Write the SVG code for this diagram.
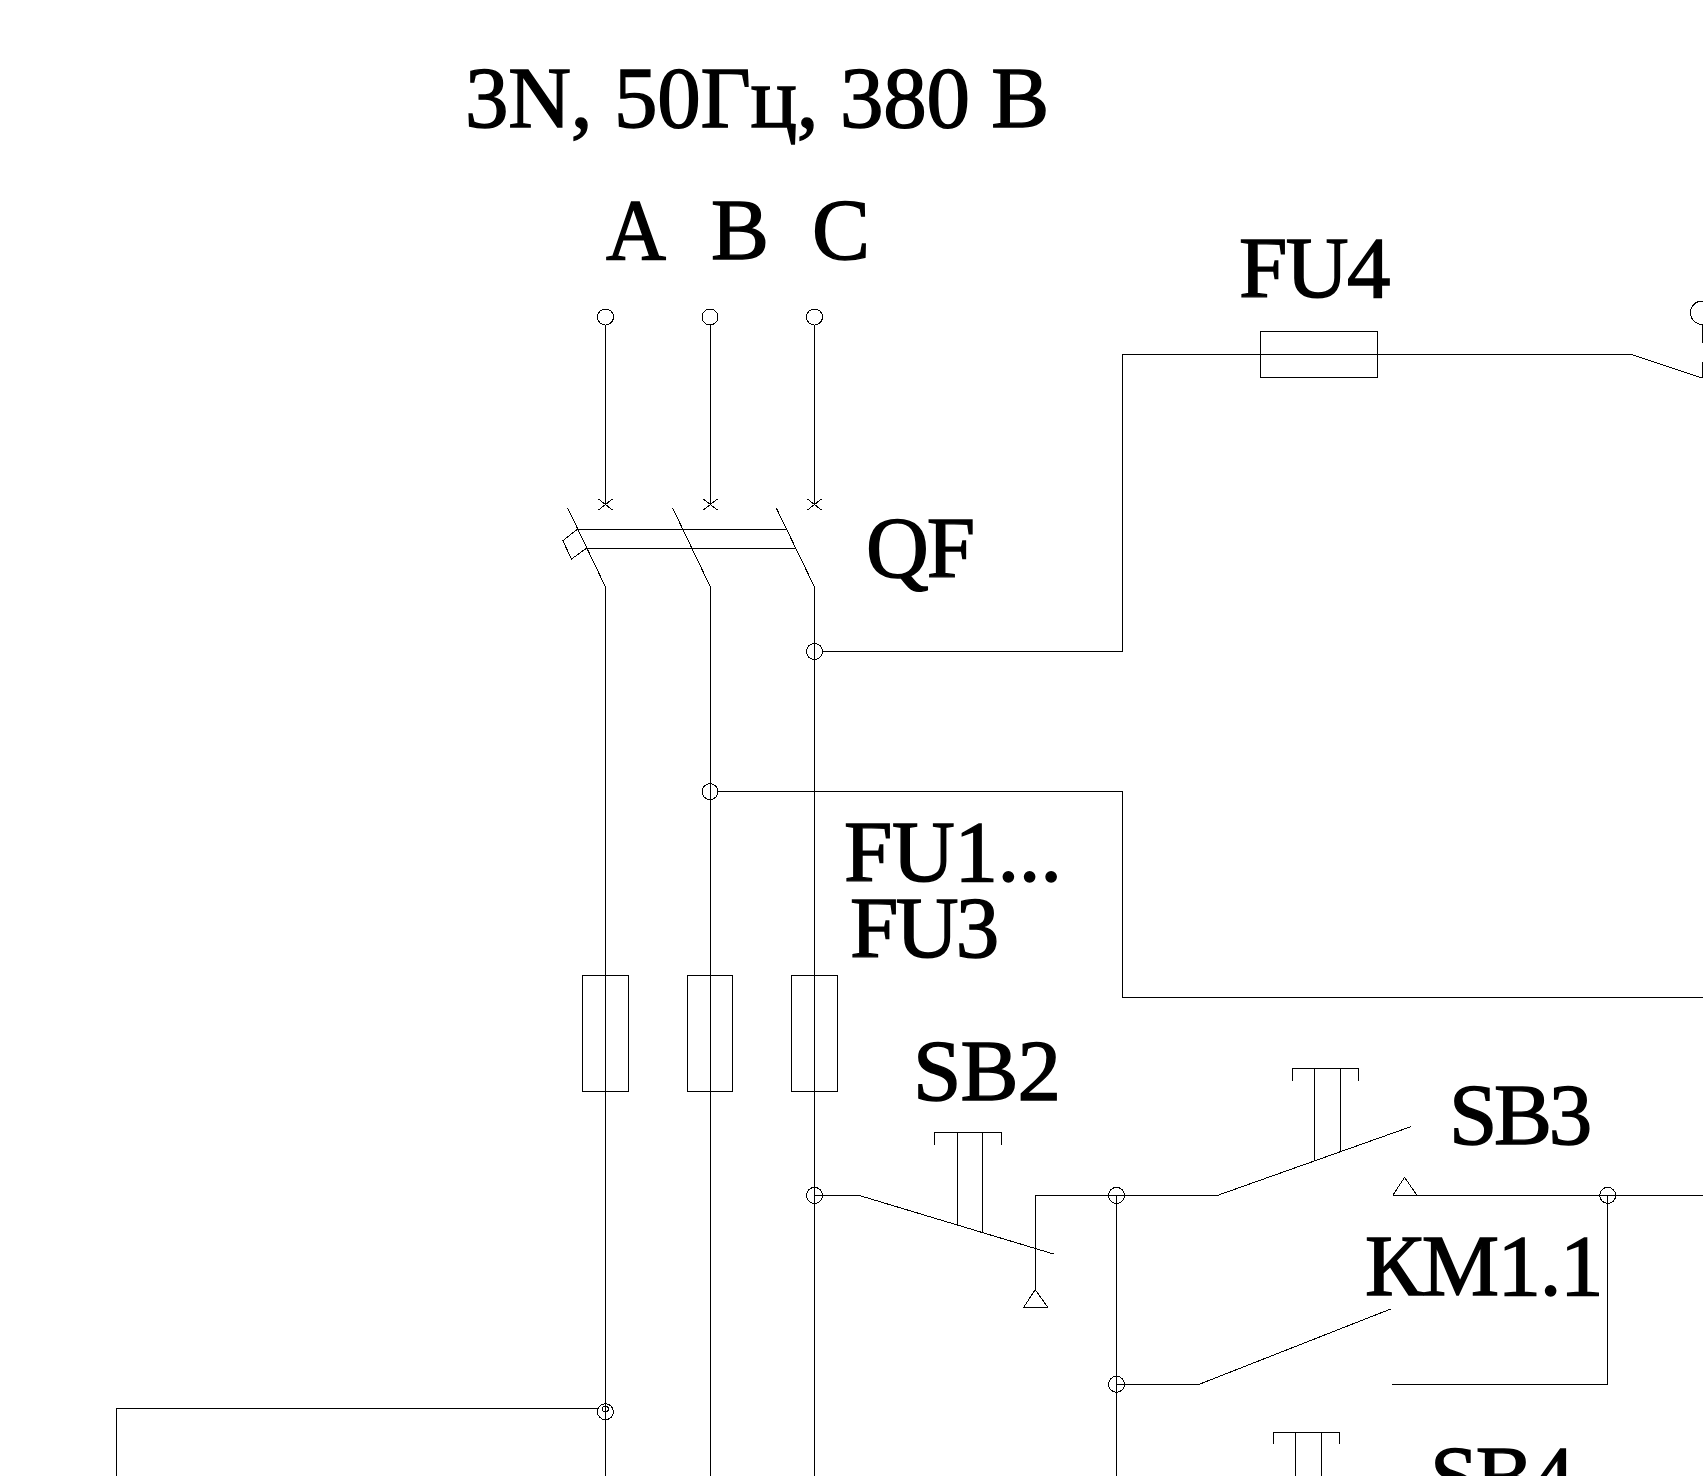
<svg xmlns="http://www.w3.org/2000/svg" width="1703" height="1476" viewBox="0 0 1703 1476">
<style>
.w{fill:none;stroke:#000;stroke-width:1;shape-rendering:crispEdges}
.c{fill:none;stroke:#000;stroke-width:1;shape-rendering:crispEdges}
.t{font-family:"Liberation Serif","Times New Roman",serif;font-size:87px;fill:#000;stroke:#000;stroke-width:1.4}
</style>
<rect width="1703" height="1476" fill="#fff"/>
<g id="connectors" class="w">
<path d="M605.5 325V505M710.4 325V505M814.5 325V505"/>
<path d="M605.5 587V1476M710.4 587V1476M814.5 587V1476"/>
<path d="M822 651.5H1122.4V354.3H1630.5L1702.3 378"/>
<path d="M718 791.6H1122.4V997.4H1703"/>
<path d="M814.5 1195.4H859L1053.6 1254"/>
<path d="M1035.3 1289.7V1195.4H1116.5"/>
<path d="M1116.5 1195.4V1476"/>
<path d="M1116.5 1195.4H1217.5L1410.8 1126.7"/>
<path d="M1392.7 1195.4H1703"/>
<path d="M1607.7 1195.4V1384.3H1392.3"/>
<path d="M1116.5 1384.3H1199.2L1391.5 1308.7"/>
<path d="M597 1408.3H116.4V1476"/>
</g>
<g id="terminals">
<circle class="c" cx="605.5" cy="317" r="8"/><circle class="c" cx="710" cy="317" r="8"/><circle class="c" cx="814.5" cy="317" r="8"/>
<path class="c" d="M598.5 499L612.5 510M612.5 499L598.5 510M703.4 499L717.4 510M717.4 499L703.4 510M807.5 499L821.5 510M821.5 499L807.5 510"/>
</g>
<g id="QF">
<path class="c" d="M567.7 508L605.5 587M672.6 508L710.4 587M776.3 508L814.5 587"/>
<path class="w" d="M577.7 529H786M586.8 548H795.8"/>
<path class="c" d="M577.7 529L562.8 540.7L571.5 559L586.8 548"/>
</g>
<g id="FU1"><rect class="w" x="582.5" y="975.5" width="46" height="116"/></g>
<g id="FU2"><rect class="w" x="687.5" y="975.5" width="45" height="116"/></g>
<g id="FU3"><rect class="w" x="791.5" y="975.5" width="46" height="116"/></g>
<g id="FU4"><rect class="w" x="1260.5" y="331.5" width="117" height="46"/></g>
<g id="SB2">
<path class="w" d="M934.6 1145V1132.6H1001.6V1145M957.6 1132.6V1225.8M982.5 1132.6V1232"/>
<path class="c" d="M1035.3 1289.7L1023.8 1307H1047.5Z"/>
</g>
<g id="SB3">
<path class="w" d="M1292.3 1080.7V1068.3H1358.5V1080.7M1314.2 1068.3V1160.7M1340.8 1068.3V1151.3"/>
<path class="c" d="M1392.7 1195.4L1404.6 1177.3L1417 1195.4"/>
</g>
<g id="SB4">
<path class="w" d="M1273.5 1444.3V1432.3H1339.6V1444.3M1295.4 1432.3V1476M1321.5 1432.3V1476"/>
</g>
<g id="nodes">
<circle class="c" cx="814.5" cy="651.5" r="8"/>
<circle class="c" cx="710" cy="791.6" r="8"/>
<circle class="c" cx="814.5" cy="1195.4" r="8"/>
<circle class="c" cx="1116.5" cy="1195.4" r="8"/>
<circle class="c" cx="1607.7" cy="1195.4" r="8"/>
<circle class="c" cx="1116.5" cy="1384.3" r="8"/>
<circle class="c" cx="605.4" cy="1411.7" r="8"/>
<circle class="c" cx="605.4" cy="1409" r="3"/>
</g>
<g id="right-terminal">
<circle class="c" cx="1702" cy="312.7" r="11.6"/>
<path class="w" d="M1702.3 324V342.7M1702.3 361.7V378"/>
</g>
<g id="labels">
<text class="t" x="465" y="127" letter-spacing="-.23">3N, 50Гц, 380 В</text>
<text class="t" x="606" y="259" textLength="60" lengthAdjust="spacingAndGlyphs">A</text>
<text class="t" x="711" y="259">B</text>
<text class="t" x="812" y="259">C</text>
<text class="t" x="866" y="577" letter-spacing="-2">QF</text>
<text class="t" x="1239" y="297" letter-spacing="-1.6">FU4</text>
<text class="t" x="844" y="881" letter-spacing="-.4">FU1...</text>
<text class="t" x="850" y="957" letter-spacing="-2.7">FU3</text>
<text class="t" x="913" y="1100" letter-spacing="-1">SB2</text>
<text class="t" x="1449" y="1144" letter-spacing="-3.3">SB3</text>
<text class="t" x="1365" y="1295" letter-spacing="-1.4">КМ1.1</text>
<text class="t" x="1430" y="1506" letter-spacing="-2.7">SB4</text>
</g>
</svg>
